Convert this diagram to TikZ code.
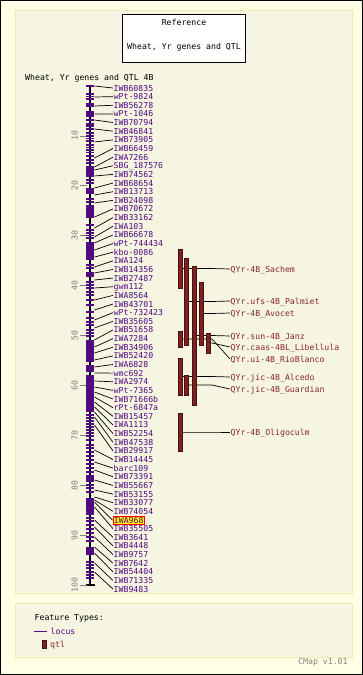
\documentclass[tikz,border=0pt]{standalone}
\usepackage{fontspec}
\setmonofont{DejaVu Sans Mono}
\usetikzlibrary{positioning, calc}
\pgfdeclarelayer{front}
\pgfsetlayers{main,front}
\definecolor{outerbg}{RGB}{255,255,230}
\definecolor{innerbg}{RGB}{245,245,226}
\definecolor{panelline}{RGB}{236,236,178}
\definecolor{locuscol}{RGB}{80,10,130}
\definecolor{qtlcol}{RGB}{128,32,32}
\definecolor{qtltext}{RGB}{140,40,40}
\definecolor{scalecol}{RGB}{128,128,128}

\begin{document}
\begin{tikzpicture}[x=1pt, y=-1pt,
  font=\ttfamily\fontsize{8.2}{9}\selectfont,
  lab/.style={inner sep=0.5pt, text height=6pt, text depth=0pt},
  panel/.style={fill=innerbg, draw=panelline, line width=1pt},
  refbox/.style={draw, fill=white, line width=1pt, minimum width=123pt, minimum height=48pt},
  locuslab/.style={lab, anchor=west, text=locuscol},
  pick/.style={fill=yellow, draw=red, line width=0.8pt, inner sep=1pt},
  qtllab/.style={lab, anchor=west, text=qtltext},
  qtlbar/.style={draw=qtlcol!55!black, fill=qtlcol, line width=0.6pt, minimum width=4pt, inner sep=0pt},
  tick/.style={locuscol, line width=1.6pt},
  link/.style={line width=0.7pt}]
  \useasboundingbox (0,0) rectangle (363,675);
  \draw[fill=outerbg, line width=1pt] (0.5,0.5) rectangle (362.5,674.5);
  \draw[panel] (15.5,10.5) rectangle (352,593);
  \draw[panel] (15.5,603.5) rectangle (352,657);

  \node[refbox] (ref) at (184,38.3) {};
  \node[lab, below=5pt of ref.north] (reftitle) {Reference};
  \node[lab, above=12.5pt of ref.south] (refname) {Wheat, Yr genes and QTL};
  \node[lab, anchor=west] (maptitle) at (24.5,77.7) {Wheat, Yr genes and QTL 4B};

  \coordinate (ctop) at (90,86);
  \coordinate (cbot) at (90,585);
  \draw[line width=2pt] (ctop) -- (cbot);
  \draw[line width=1.6pt] (cbot) ++(-4.5,0) -- ++(9,0);
  \foreach \v in {10,20,...,100} {
    \draw[scalecol, line width=0.8pt] (80,{86+4.99*\v}) -- (87,{86+4.99*\v});
    \node[lab, text=scalecol, rotate=90] (s\v) at (74.5,{86+4.99*\v}) {\v};
  }
  \foreach \ya/\yb in {103/107, 111/117, 123/127, 166/177, 188/194, 205/218, 242/260,
      272/277, 340/362, 365/372, 375/412, 475/482, 498/515, 547/555}
    \fill[locuscol] (86,\ya) rectangle (94,\yb);
  \foreach \y in {86, 94, 96.5, 99, 120, 129, 133, 136, 138.5, 141, 145, 147.5, 150, 152.5,
      156, 160, 163, 180, 183, 199, 202, 206, 225, 230, 233, 235.5, 238, 265, 268, 282, 285,
      288, 292, 295, 300, 305, 312, 318, 322, 325, 330, 333, 336, 415, 418, 421, 424, 427,
      430, 433, 436, 440, 445, 448, 452, 456, 460, 464, 468, 472, 485, 488, 492, 518, 521,
      525, 529, 533, 537, 541, 562, 565, 568, 572, 575, 578}
    \draw[tick] (86,\y) -- (94,\y);

  \foreach \lab/\my [count=\i] in {IWB60835/86, wPt-9824/97, IWB56278/106, wPt-1046/114,
      IWB70794/120, IWB46841/129, IWB73905/142, IWB66459/158, IWA7266/167,
      SBG\_187576/170, IWB74562/176, IWB68654/188, IWB13713/195, IWB24098/203,
      IWB70672/217, IWB33162/228, IWA103/237, IWB66678/243, wPt-744434/250,
      kbo-0086/257, IWA124/267, IWB14356/273, IWB27487/280, gwm112/288,
      IWA8564/300, IWB43701/310, wPt-732423/320, IWB35605/328, IWB51658/340,
      IWA7284/347, IWB34906/353, IWB52420/360, IWA6828/367, wmc692/373,
      IWA2974/381, wPt-7365/387, IWB71666b/392, rPt-6847a/397, IWB15457/402,
      IWA1113/407, IWB52254/412, IWB47538/417, IWB29917/425, IWB14445/450,
      barc109/462, IWB73391/470, IWB55667/480, IWB53155/490, IWB33077/497,
      IWB74054/500, IWA968/502, IWB35505/507, IWB3641/520, IWB4448/527,
      IWB9757/537, IWB7642/547, IWB54404/553, IWB71335/563, IWB9483/572} {
    \pgfmathsetmacro\ly{88+8.64*(\i-1)}
    \coordinate (m\i) at (94.5,\my);
    \ifnum\i=51
      \node[locuslab, pick] (l\i) at (112.5,\ly) {\lab};
    \else
      \node[locuslab] (l\i) at (113,\ly) {\lab};
    \fi
    \draw[link] (m\i) -- (l\i.west);
  }

  \begin{pgfonlayer}{front}
    \foreach \x/\mid/\h [count=\k] in {180/268.5/39, 186.5/301.5/87, 194/335.5/139,
        201/313.5/63, 180/339/16, 208.5/343/20, 180/376.5/37, 186.5/385/20, 180/432/38}
      \node[qtlbar, minimum height=\h] (q\k) at (\x,\mid) {};
  \end{pgfonlayer}
  \coordinate (bend) at (212,0);
  \foreach \txt/\ty/\b [count=\k] in {QYr-4B\_Sachem/269/1, QYr.ufs-4B\_Palmiet/301/2,
      QYr-4B\_Avocet/313/4, QYr.sun-4B\_Janz/336/3, QYr.caas-4BL\_Libellula/347/6,
      QYr.ui-4B\_RioBlanco/359/5, QYr.jic-4B\_Alcedo/377/7,
      QYr.jic-4B\_Guardian/389/8, QYr-4B\_Oligoculm/432/9} {
    \node[qtllab] (t\k) at (230,\ty) {\txt};
    \draw[link] (q\b.east) -- (q\b.east -| bend) -- (t\k.west);
  }

  \node[lab, anchor=west] (ftypes) at (34,617.7) {Feature Types:};
  \node[locuslab] (lglocus) at (50,631) {locus};
  \draw[locuscol, line width=0.8pt] (34,631) -- ++(13,0);
  \node[qtlbar, minimum height=8pt] (lgq) at (44,644) {};
  \node[qtllab] (lgqtl) at (49.5,644) {qtl};
  \node[lab, anchor=west, text=scalecol] (ver) at (297.5,661) {CMap v1.01};
\end{tikzpicture}
\end{document}
